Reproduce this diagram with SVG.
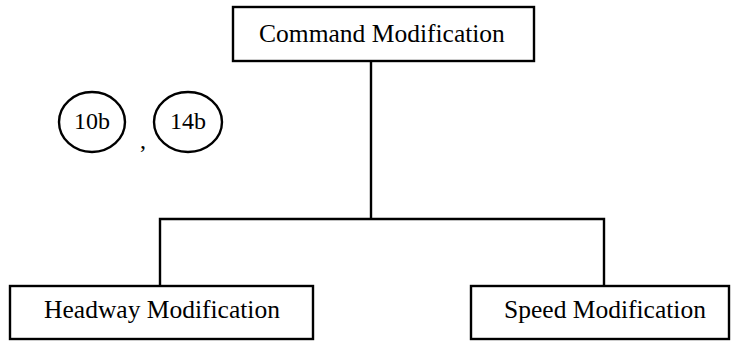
<svg xmlns="http://www.w3.org/2000/svg" width="733" height="341" viewBox="0 0 733 341">
  <style>
    .box { fill: #ffffff; stroke: #000000; stroke-width: 2.4; }
    .wire { fill: none; stroke: #000000; stroke-width: 2.4; }
    .label { font-family: "Liberation Serif", "Times New Roman", serif; font-size: 25.5px; fill: #000000; text-anchor: middle; }
    .ref { font-family: "Liberation Serif", "Times New Roman", serif; font-size: 24px; fill: #000000; text-anchor: middle; }
    .bubble { fill: none; stroke: #000000; stroke-width: 2.4; }
  </style>
  <rect width="733" height="341" fill="#ffffff"/>

  <!-- tree connectors -->
  <g id="connectors">
    <path class="wire" d="M371,61 V219"/>
    <path class="wire" d="M160,286 V219 H604 V286"/>
  </g>

  <g id="command">
    <rect class="box" x="233" y="7" width="301" height="54"/>
    <text class="label" x="382" y="42">Command Modification</text>
  </g>

  <g id="headway">
    <rect class="box" x="10" y="286" width="303" height="53"/>
    <text class="label" x="162" y="318">Headway Modification</text>
  </g>

  <g id="speed">
    <rect class="box" x="471" y="286" width="258" height="53"/>
    <text class="label" x="605" y="318">Speed Modification</text>
  </g>

  <!-- reference numerals -->
  <g id="ref-10b">
    <ellipse class="bubble" cx="92" cy="122" rx="33" ry="30"/>
    <text class="ref" x="92" y="129">10b</text>
  </g>
  <text class="ref" x="143" y="148">,</text>
  <g id="ref-14b">
    <ellipse class="bubble" cx="188" cy="122" rx="34" ry="30"/>
    <text class="ref" x="188" y="129">14b</text>
  </g>
</svg>
